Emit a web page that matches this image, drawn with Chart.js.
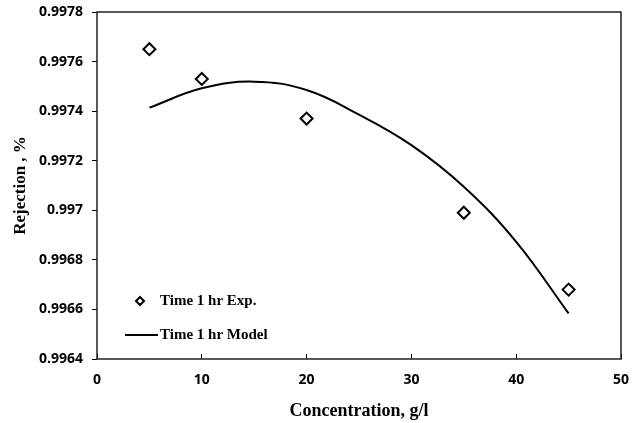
<!DOCTYPE html>
<html>
<head>
<meta charset="utf-8">
<script src="https://cdn.jsdelivr.net/npm/chart.js@4/dist/chart.umd.min.js"></script>
<style>
  html, body { margin: 0; padding: 0; background: #fff; }
  #wrap { width: 639px; height: 423px; }
</style>
</head>
<body>
<div id="wrap"><canvas id="chart"></canvas></div>
<script>
// experimental points
const expConc = [5, 10, 20, 35, 45];
const expRejection = [0.99765, 0.99753, 0.99737, 0.99699, 0.99668];

// model curve
const modelConc = [5, 10, 15, 20, 25, 30, 35, 40, 45];
const modelRejection = [0.997414, 0.997492, 0.997519, 0.997485, 0.997386, 0.997263, 0.997095, 0.996873, 0.996584];

const xTicks = [0, 10, 20, 30, 40, 50];
const yTicks = [0.9964, 0.9966, 0.9968, 0.997, 0.9972, 0.9974, 0.9976, 0.9978];

const serif = "'Liberation Serif', 'Times New Roman', serif";
const sans = "'Open Sans', 'Liberation Sans', sans-serif";

function toPoints(xs, ys) {
    return xs.map((x, i) => ({ x: x, y: ys[i] }));
}

// frame around plot area + legend inside it
const framePlugin = {
    id: 'frame',
    afterDraw(chart) {
        let ctx = chart.ctx;
        let a = chart.chartArea;
        ctx.save();
        ctx.strokeStyle = '#222';
        ctx.lineWidth = 1.5;
        ctx.strokeRect(a.left, a.top, a.right - a.left, a.bottom - a.top);

        // legend
        let ds = chart.data.datasets;
        ctx.font = 'bold 15px ' + serif;
        ctx.fillStyle = '#000';
        ctx.textBaseline = 'middle';
        ctx.textAlign = 'left';

        let y1 = a.bottom - 58;
        let cx = a.left + 43;
        ctx.beginPath();
        ctx.moveTo(cx, y1 - 4);
        ctx.lineTo(cx + 4, y1);
        ctx.lineTo(cx, y1 + 4);
        ctx.lineTo(cx - 4, y1);
        ctx.closePath();
        ctx.fillStyle = '#fff';
        ctx.fill();
        ctx.strokeStyle = '#000';
        ctx.lineWidth = 2;
        ctx.stroke();
        ctx.fillStyle = '#000';
        ctx.fillText(ds[0].label, a.left + 63, y1);

        let y2 = a.bottom - 24;
        ctx.beginPath();
        ctx.moveTo(a.left + 28, y2);
        ctx.lineTo(a.left + 61, y2);
        ctx.lineWidth = 2;
        ctx.stroke();
        ctx.fillText(ds[1].label, a.left + 63, y2);
        ctx.restore();
    }
};

new Chart(document.getElementById('chart'), {
    type: 'scatter',
    data: {
        datasets: [{
            label: 'Time 1 hr Exp.',
            data: toPoints(expConc, expRejection),
            pointStyle: 'rectRot',
            pointRadius: 6,
            pointBorderWidth: 2,
            pointBorderColor: '#000',
            pointBackgroundColor: '#fff',
            showLine: false
        }, {
            label: 'Time 1 hr Model',
            data: toPoints(modelConc, modelRejection),
            showLine: true,
            borderColor: '#000',
            borderWidth: 2,
            pointRadius: 0,
            tension: 0.4
        }]
    },
    options: {
        responsive: true,
        maintainAspectRatio: false,
        animation: false,
        events: [],
        layout: { padding: { top: 12, right: 18, left: 0, bottom: 0 } },
        plugins: {
            legend: { display: false },
            tooltip: { enabled: false }
        },
        scales: {
            x: {
                type: 'linear',
                min: 0,
                max: 50,
                afterBuildTicks: s => { s.ticks = xTicks.map(v => ({ value: v })); },
                afterFit: s => { s.height = 64; s.paddingLeft = 0; s.paddingRight = 0; },
                border: { display: false },
                grid: { drawOnChartArea: false, drawTicks: true, tickLength: -5, color: '#000', lineWidth: 1 },
                ticks: { color: '#000', padding: 18, font: { family: sans, size: 14, weight: 'bold' } },
                title: { display: true, text: 'Concentration, g/l', color: '#000', padding: { top: 0, bottom: 1 },
                    font: { family: serif, size: 18, weight: 'bold' } }
            },
            y: {
                type: 'linear',
                min: 0.9964,
                max: 0.9978,
                afterBuildTicks: s => { s.ticks = yTicks.map(v => ({ value: v })); },
                afterFit: s => { s.width = 97; s.paddingTop = 0; s.paddingBottom = 0; },
                border: { display: false },
                grid: { drawOnChartArea: false, drawTicks: true, tickLength: 5, color: '#000', lineWidth: 1 },
                ticks: {
                    color: '#000', padding: 9, font: { family: sans, size: 14, weight: 'bold' },
                    callback: v => String(parseFloat(v.toFixed(4)))
                },
                title: { display: true, text: 'Rejection , %', color: '#000', padding: { top: 10, bottom: 0 },
                    font: { family: serif, size: 17, weight: 'bold' } }
            }
        }
    },
    plugins: [framePlugin]
});
</script>
</body>
</html>
